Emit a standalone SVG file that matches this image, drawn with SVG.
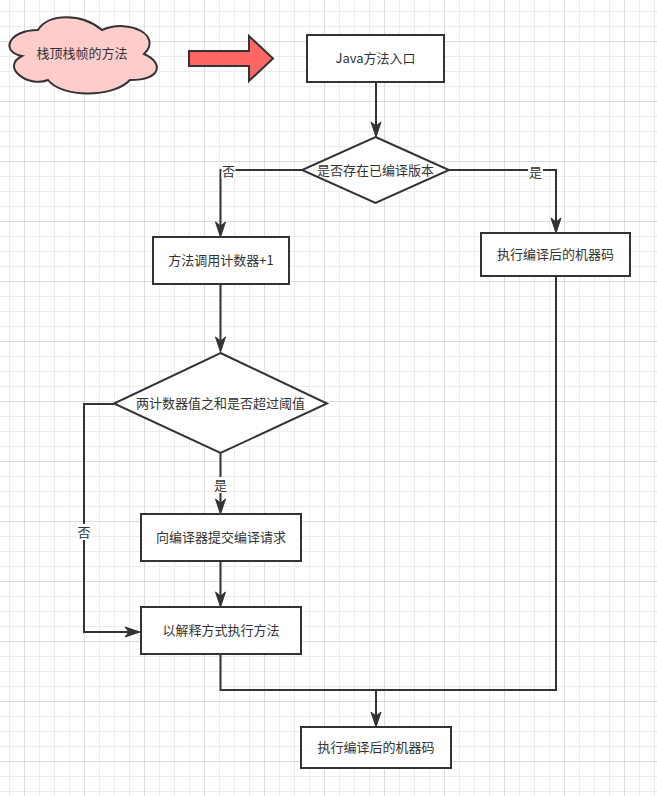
<svg xmlns="http://www.w3.org/2000/svg" width="657" height="796" viewBox="0 0 657 796">
<style>
.box{fill:#fff;stroke:#333;stroke-width:2}
.edge{fill:none;stroke:#333;stroke-width:2}
.t{font-family:"Noto Sans CJK SC","Microsoft YaHei",sans-serif;font-size:13px;fill:#333;text-anchor:middle}
.lbg{fill:#fff}
</style>
<defs>
<pattern id="minor" x="9" y="11" width="15" height="15" patternUnits="userSpaceOnUse">
<path d="M0.5 0V15M0 0.5H15" stroke="#ececec" stroke-width="1" fill="none"/>
</pattern>
<pattern id="major" x="24" y="41" width="60" height="60" patternUnits="userSpaceOnUse">
<path d="M0.5 0V60M0 0.5H60" stroke="#dcdcdc" stroke-width="1" fill="none"/>
</pattern>
<marker id="arr" markerUnits="userSpaceOnUse" markerWidth="16" markerHeight="12" refX="4" refY="5" orient="auto" overflow="visible">
<path d="M0,0 L15,5 L0,10 L4,5 Z" fill="#333" stroke="#333" stroke-width="1"/>
</marker>
</defs>
<rect width="657" height="796" fill="#fff"/>
<rect width="657" height="796" fill="url(#minor)"/>
<rect width="657" height="796" fill="url(#major)"/>

<g id="connectors">
<path class="edge" d="M376,82 V126" marker-end="url(#arr)"/>
<path class="edge" d="M302,170 H220.5 V226" marker-end="url(#arr)"/>
<path class="edge" d="M449,170 H556 V222" marker-end="url(#arr)"/>
<path class="edge" d="M220.5,284 V341" marker-end="url(#arr)"/>
<path class="edge" d="M220.5,453 V503" marker-end="url(#arr)"/>
<path class="edge" d="M114,404 H84 V632 H129" marker-end="url(#arr)"/>
<path class="edge" d="M220.5,561 V596" marker-end="url(#arr)"/>
<path class="edge" d="M220.5,654 V690 H376 V716" marker-end="url(#arr)"/>
<path class="edge" d="M556,276 V690 H376"/>
<rect class="lbg" x="221.5" y="163" width="14" height="16"/>
<text class="t" x="228.5" y="171" dy="0.35em">否</text>
<rect class="lbg" x="528" y="164" width="15" height="16"/>
<text class="t" x="535.5" y="172" dy="0.35em">是</text>
<rect class="lbg" x="213.5" y="477" width="14" height="16"/>
<text class="t" x="220.5" y="485" dy="0.35em">是</text>
<rect class="lbg" x="77" y="524" width="14" height="16"/>
<text class="t" x="84" y="532" dy="0.35em">否</text>
</g>

<g id="cloud">
<path d="M38,30 C8,30 0,52 22,56 C0,67 28,88 48,80 C62,98 113,98 130,80 C163,80 163,62 144,54 C163,36 130,18 102,30 C82,13 48,13 38,30 Z" fill="#ffcccc" stroke="#333" stroke-width="2"/>
<text class="t" x="82" y="53" dy="0.35em">栈顶栈帧的方法</text>
</g>

<g id="redArrow">
<polygon points="189,51 249,51 249,36 273,58.5 249,81 249,66 189,66" fill="#ff6666" stroke="#333" stroke-width="2" stroke-linejoin="miter"/>
</g>

<g id="javaEntry">
<rect class="box" x="307" y="35" width="137" height="47"/>
<text class="t" x="375.5" y="58.5" dy="0.35em">Java方法入口</text>
</g>

<g id="hasCompiled">
<polygon class="box" points="375.5,137 449,170 375.5,203 302,170"/>
<text class="t" x="375.5" y="170" dy="0.35em">是否存在已编译版本</text>
</g>

<g id="counterInc">
<rect class="box" x="153" y="237" width="136" height="47"/>
<text class="t" x="221" y="260.5" dy="0.35em">方法调用计数器+1</text>
</g>

<g id="execCompiledRight">
<rect class="box" x="481" y="233" width="149" height="43"/>
<text class="t" x="555.5" y="254.5" dy="0.35em">执行编译后的机器码</text>
</g>

<g id="threshold">
<polygon class="box" points="220.5,353 327,403.5 220.5,453 114,403.5"/>
<text class="t" x="220.5" y="403.5" dy="0.35em">两计数器值之和是否超过阈值</text>
</g>

<g id="submitCompile">
<rect class="box" x="141" y="514" width="160" height="47"/>
<text class="t" x="221" y="537.5" dy="0.35em">向编译器提交编译请求</text>
</g>

<g id="interpret">
<rect class="box" x="141" y="607" width="160" height="47"/>
<text class="t" x="221" y="630.5" dy="0.35em">以解释方式执行方法</text>
</g>

<g id="execCompiledFinal">
<rect class="box" x="301" y="727" width="150" height="41"/>
<text class="t" x="376" y="747.5" dy="0.35em">执行编译后的机器码</text>
</g>
</svg>
